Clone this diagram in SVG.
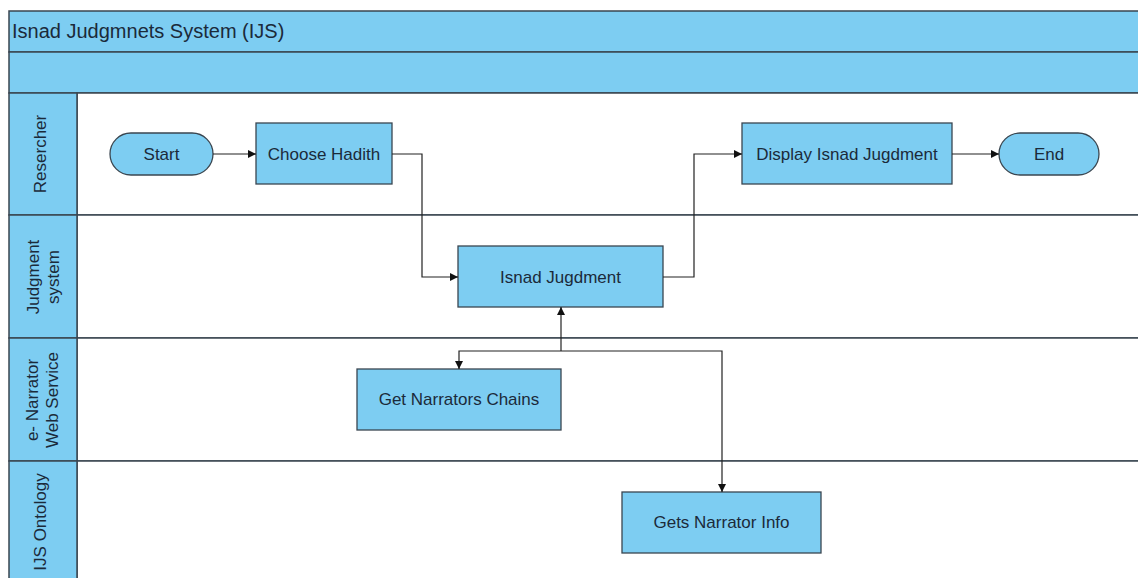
<svg xmlns="http://www.w3.org/2000/svg" width="1138" height="578" viewBox="0 0 1138 578">
<style>
.band{fill:#7dcdf2;stroke:#3a4650;stroke-width:1.5}
.lane{fill:#ffffff;stroke:#3a4650;stroke-width:1.5}
.node{fill:#7dcdf2;stroke:#3a4650;stroke-width:1.3}
.t{font-family:"Liberation Sans",Arial,sans-serif;font-size:17px;fill:#1b2a3a}
.c{text-anchor:middle}
.conn path{fill:none;stroke:#222;stroke-width:1.2}
</style>
<defs>
<marker id="ah" viewBox="0 0 10 10" refX="10" refY="5" markerWidth="10" markerHeight="8" markerUnits="userSpaceOnUse" orient="auto">
<path d="M0,0 L10,5 L0,10 z" fill="#111"/>
</marker>
</defs>
<rect width="1138" height="578" fill="#ffffff"/>
<g id="pool">
<rect class="band" x="9" y="11" width="1140" height="41"/>
<text class="t" x="12" y="38" style="font-size:20px">Isnad Judgmnets System (IJS)</text>
<rect class="band" x="9" y="52" width="1140" height="41"/>
</g>
<g id="lane-researcher">
<rect class="lane" x="77" y="93" width="1072" height="122"/>
<rect class="band" x="9" y="93" width="68" height="122"/>
<text class="t c" transform="translate(46,154) rotate(-90)">Resercher</text>
</g>
<g id="lane-judgment">
<rect class="lane" x="77" y="215" width="1072" height="123"/>
<rect class="band" x="9" y="215" width="68" height="123"/>
<text class="t c" transform="translate(39,277) rotate(-90)">Judgment</text>
<text class="t c" transform="translate(59,277) rotate(-90)">system</text>
</g>
<g id="lane-enarrator">
<rect class="lane" x="77" y="338" width="1072" height="123"/>
<rect class="band" x="9" y="338" width="68" height="123"/>
<text class="t c" transform="translate(38,400) rotate(-90)">e- Narrator</text>
<text class="t c" transform="translate(58,400) rotate(-90)">Web Service</text>
</g>
<g id="lane-ontology">
<rect class="lane" x="77" y="461" width="1072" height="130"/>
<rect class="band" x="9" y="461" width="68" height="130"/>
<text class="t c" transform="translate(46,522) rotate(-90)">IJS Ontology</text>
</g>
<g id="start">
<rect class="node" x="110" y="133" width="103" height="42" rx="21" ry="21"/>
<text class="t c" x="161.5" y="160">Start</text>
</g>
<g id="choose-hadith">
<rect class="node" x="256" y="123" width="136" height="61"/>
<text class="t c" x="324" y="160">Choose Hadith</text>
</g>
<g id="isnad-judgment">
<rect class="node" x="458" y="246" width="205" height="61"/>
<text class="t c" x="560.5" y="283">Isnad Jugdment</text>
</g>
<g id="display-judgment">
<rect class="node" x="742" y="123" width="210" height="61"/>
<text class="t c" x="847" y="160">Display Isnad Jugdment</text>
</g>
<g id="end">
<rect class="node" x="999" y="133" width="100" height="42" rx="21" ry="21"/>
<text class="t c" x="1049" y="160">End</text>
</g>
<g id="get-chains">
<rect class="node" x="357" y="369" width="204" height="61"/>
<text class="t c" x="459" y="405">Get Narrators Chains</text>
</g>
<g id="narrator-info">
<rect class="node" x="622" y="492" width="199" height="61"/>
<text class="t c" x="721.5" y="528">Gets Narrator Info</text>
</g>
<g id="connectors" class="conn">
<path d="M213,154 H256" marker-end="url(#ah)"/>
<path d="M392,154 H422 V277 H458" marker-end="url(#ah)"/>
<path d="M663,277 H694 V154 H742" marker-end="url(#ah)"/>
<path d="M952,154 H999" marker-end="url(#ah)"/>
<path d="M561,351 V307" marker-end="url(#ah)"/>
<path d="M561,351 H459 V369" marker-end="url(#ah)"/>
<path d="M561,351 H722 V492" marker-end="url(#ah)"/>
</g>
</svg>
